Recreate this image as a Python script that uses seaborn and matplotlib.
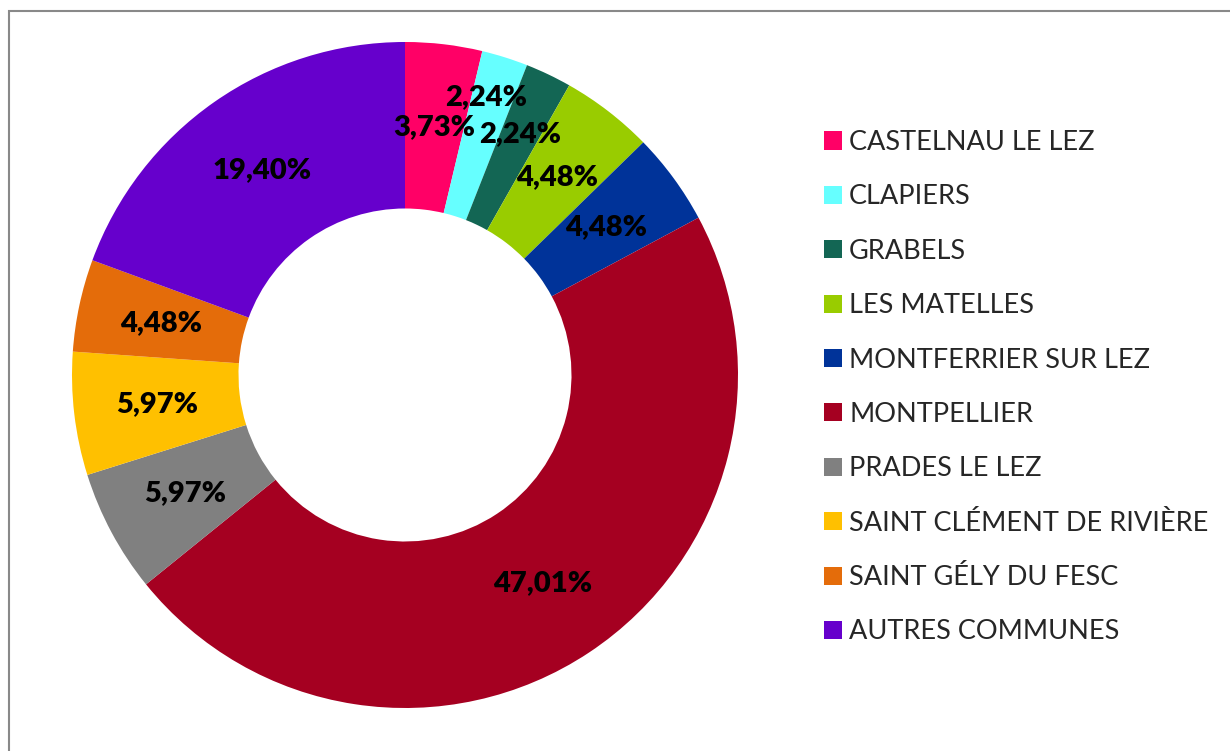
import numpy as np
import matplotlib
matplotlib.use("Agg")
from matplotlib import pyplot as plt
from matplotlib.patches import Rectangle
import seaborn as sns

communes = ['CASTELNAU LE LEZ', 'CLAPIERS', 'GRABELS', 'LES MATELLES',
            'MONTFERRIER SUR LEZ', 'MONTPELLIER', 'PRADES LE LEZ',
            'SAINT CLÉMENT DE RIVIÈRE', 'SAINT GÉLY DU FESC', 'AUTRES COMMUNES']
parts = [3.73, 2.24, 2.24, 4.48, 4.48, 47.01, 5.97, 5.97, 4.48, 19.40]
couleurs = ['#FF0066', '#66FFFF', '#136654', '#99CC00', '#003399',
            '#A50021', '#808080', '#FFC000', '#E46C0A', '#6600CC']
# radial position of each label (fraction of outer radius)
label_r = [0.75, 0.87, 0.80, 0.75, 0.75, 0.75, 0.75, 0.75, 0.75, 0.75]

sns.set_theme(style="white")
plt.rcParams['font.family'] = ['Lato', 'DejaVu Sans']

W, H = 1230, 751
fig = plt.figure(figsize=(W / 100, H / 100), dpi=100)
R = 333
cx, cy = 405, 375
ax = fig.add_axes([(cx - R) / W, (H - cy - R) / H, 2 * R / W, 2 * R / H])

wedges, _ = ax.pie(parts, colors=sns.color_palette(couleurs), startangle=90,
                   counterclock=False, radius=1,
                   wedgeprops=dict(width=0.5, linewidth=0))
ax.set_xlim(-1, 1)
ax.set_ylim(-1, 1)
ax.set_aspect('equal')
ax.axis('off')

for w, p, r in zip(wedges, parts, label_r):
    ang = np.deg2rad((w.theta1 + w.theta2) / 2)
    if r > 0.8:
        ang += np.deg2rad(1.2)
    ax.text(r * np.cos(ang), r * np.sin(ang), f"{p:.2f}%".replace('.', ','),
            ha='center', va='center', fontsize=21, fontweight='heavy', color='black')

fig.legend(wedges, communes, loc='upper left',
           bbox_to_anchor=(824 / W, 1 - 130 / H), frameon=False,
           fontsize=19.5, handlelength=0.65, handleheight=0.65,
           handletextpad=0.28, labelspacing=1.085, borderpad=0, borderaxespad=0)

fig.patches.append(Rectangle((9 / W, -0.1), 1.2, 1 - 11 / H + 0.1,
                             transform=fig.transFigure, fill=False,
                             edgecolor='#898989', linewidth=1.5))

fig.savefig('out.png', dpi=100)
